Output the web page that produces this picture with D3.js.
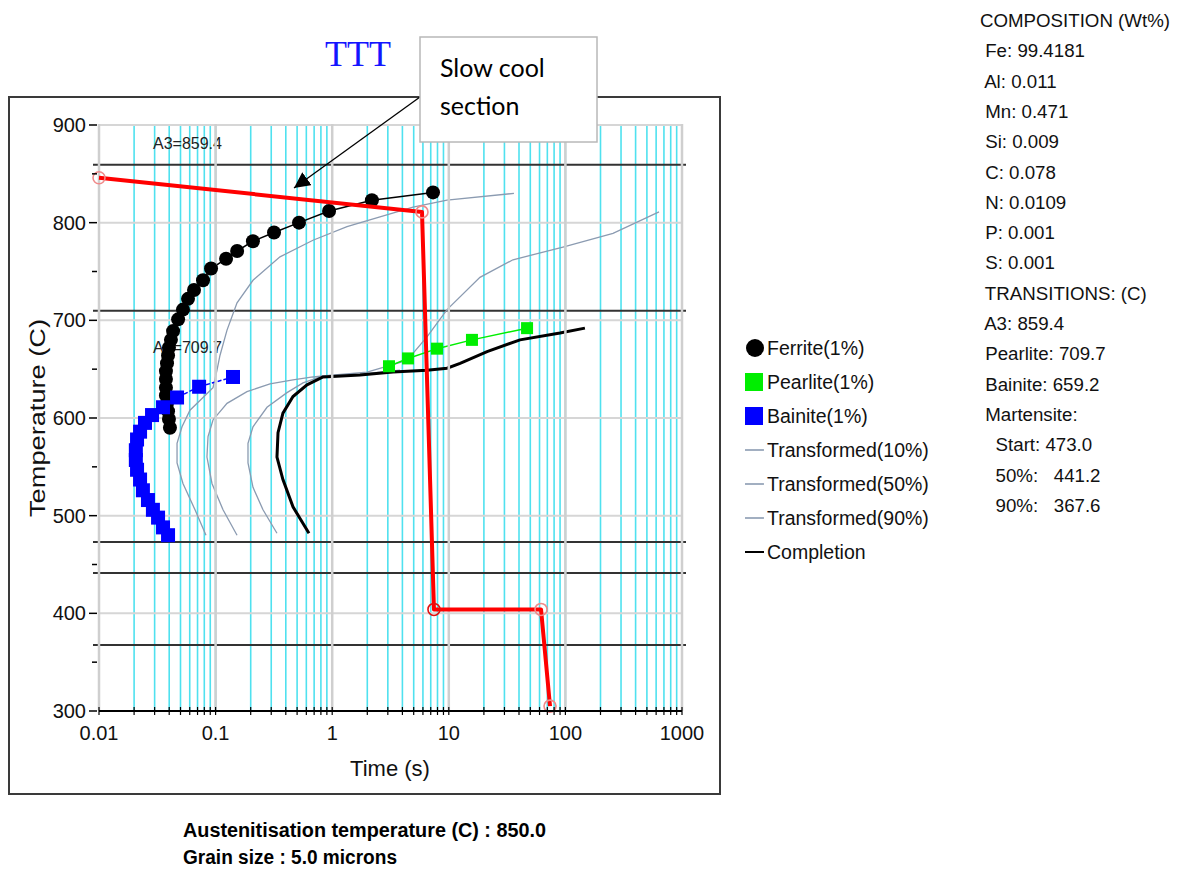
<!DOCTYPE html>
<html>
<head>
<meta charset="utf-8">
<script src="https://cdn.jsdelivr.net/npm/d3@7"></script>
<style>
  html, body { margin: 0; padding: 0; background: #fff; }
  svg text { font-family: "Liberation Sans", Arial, sans-serif; white-space: pre; }
</style>
</head>
<body>
<svg id="chart" width="1181" height="872"></svg>
<script>
// ---- Data -------------------------------------------------------------
const timeTickLabels = ["0.01", "0.1", "1", "10", "100", "1000"];
const tempTicks = [300, 400, 500, 600, 700, 800, 900];
const tempMinorTicks = [350, 450, 550, 650, 750, 850];

// Transition temperatures (C): A3, A1, Ms, M50, M90
const transitionTemps = [859.4, 709.7, 473.0, 441.2, 367.6];
const transitionLabels = ["A3=859.4", "A1=709.7"];

// [time (s), temperature (C)]
const ferriteStart = [
  [7.32, 831], [2.19, 823], [0.94, 812], [0.519, 800], [0.317, 790], [0.209, 781],
  [0.153, 771], [0.123, 763], [0.0914, 753], [0.078, 741], [0.0653, 731], [0.058, 722],
  [0.0525, 711], [0.0477, 701], [0.0432, 689], [0.0414, 680], [0.0398, 672], [0.0391, 664],
  [0.0383, 656], [0.0375, 648], [0.0375, 640], [0.0375, 631], [0.0375, 623], [0.0383, 615],
  [0.0391, 607], [0.0398, 599], [0.0406, 590]
];
const pearliteStart = [[3.07, 653], [4.47, 661], [7.92, 671], [15.8, 680], [46.9, 692]];
const bainiteStart = [
  [0.141, 642], [0.0722, 632], [0.0467, 621], [0.0354, 611], [0.0285, 603], [0.0248, 595],
  [0.0225, 586], [0.0212, 578], [0.0207, 567], [0.0207, 557], [0.0212, 547], [0.0225, 537],
  [0.0238, 526], [0.0263, 516], [0.0290, 506], [0.0321, 498], [0.0354, 488], [0.0391, 480]
];
const transformed10 = [
  [0.0827, 480], [0.0666, 506], [0.0525, 533], [0.0467, 554], [0.0467, 574], [0.0515, 591],
  [0.0603, 608], [0.078, 621], [0.095, 631], [0.1028, 649], [0.109, 664], [0.1253, 690],
  [0.1527, 718], [0.2093, 741], [0.3566, 765], [0.684, 782], [1.34, 796], [2.57, 806],
  [4.93, 816], [9.66, 823], [36.2, 830]
];
const transformed50 = [
  [0.1527, 480], [0.1158, 506], [0.0931, 533], [0.0843, 560], [0.0861, 581], [0.095, 598],
  [0.1253, 615], [0.1858, 627], [0.2928, 635], [0.461, 639], [0.684, 642], [0.834, 643],
  [1.99, 647], [4.38, 659], [6.50, 683], [9.66, 711], [18.5, 744], [35.5, 762],
  [95.3, 775], [256, 789], [635, 811]
];
const transformed90 = [
  [0.336, 482], [0.255, 506], [0.2093, 529], [0.1896, 554], [0.1896, 574], [0.2093, 591],
  [0.276, 611], [0.4096, 626], [0.5617, 636], [0.834, 643], [1.73, 645], [3.81, 649]
];
const completion = [
  [0.632, 482], [0.461, 509], [0.378, 537], [0.336, 560], [0.343, 585], [0.378, 605],
  [0.461, 622], [0.608, 634], [0.834, 642], [1.73, 644], [3.32, 647], [6.50, 649],
  [9.66, 651], [12.5, 656], [21.3, 668], [40.8, 680], [89.9, 687], [147, 692]
];
// Cooling schedule: austenitise, slow cool, quench, hold, final quench
const coolingPath = [[0.01, 846], [5.89, 811], [7.46, 404], [61.8, 404], [73.8, 305]];

const legendItems = ["Ferrite(1%)", "Pearlite(1%)", "Bainite(1%)", "Transformed(10%)",
  "Transformed(50%)", "Transformed(90%)", "Completion"];
const compositionLines = [
  "COMPOSITION (Wt%)", " Fe: 99.4181", " Al: 0.011", " Mn: 0.471", " Si: 0.009",
  " C: 0.078", " N: 0.0109", " P: 0.001", " S: 0.001", " TRANSITIONS: (C)", " A3: 859.4",
  " Pearlite: 709.7", " Bainite: 659.2", " Martensite:", "   Start: 473.0",
  "   50%:   441.2", "   90%:   367.6"
];
const footerLines = ["Austenitisation temperature (C) : 850.0", "Grain size : 5.0 microns"];
const chartTitle = "TTT";
const calloutLines = ["Slow cool", "section"];

// ---- Layout -----------------------------------------------------------
const svg = d3.select("#chart");
const x = d3.scaleLog().domain([0.01, 1000]).range([99, 682]);
const y = d3.scaleLinear().domain([300, 900]).range([711, 125]);
const line = d3.line().x(d => x(d[0])).y(d => y(d[1]));

const CYAN = "#4fe1ef", GRID = "#d6d6d6", CURVE = "#8b9bb1";

svg.append("rect").attr("width", 1181).attr("height", 872).attr("fill", "#fff");

// Chart frame
svg.append("rect").attr("x", 9).attr("y", 97).attr("width", 711).attr("height", 697)
  .attr("fill", "none").attr("stroke", "#3a3a3a").attr("stroke-width", 2);

// Vertical minor gridlines (1..9 per decade)
const minorTimes = [];
for (let k = -2; k <= 2; k++) for (let m = 1; m <= 9; m++) minorTimes.push(m * Math.pow(10, k));
minorTimes.push(1000);
const g = svg.append("g");
g.selectAll("line.cyan").data(minorTimes).join("line")
  .attr("x1", d => x(d)).attr("x2", d => x(d))
  .attr("y1", 124).attr("y2", y(300))
  .attr("stroke", CYAN).attr("stroke-width", 1.6);

// Horizontal gridlines
g.selectAll("line.hgrid").data(tempTicks.filter(t => t > 300)).join("line")
  .attr("x1", x(0.01)).attr("x2", x(1000))
  .attr("y1", d => y(d)).attr("y2", d => y(d))
  .attr("stroke", GRID).attr("stroke-width", 2);

// Transition temperature lines
g.selectAll("line.trans").data(transitionTemps).join("line")
  .attr("x1", x(0.01) - 6).attr("x2", x(1000) + 4)
  .attr("y1", d => y(d)).attr("y2", d => y(d))
  .attr("stroke", "#333").attr("stroke-width", 2);

// A3 label sits above its line, A1 label below its line
g.selectAll("text.trans").data(transitionLabels).join("text")
  .attr("x", 153).attr("y", (d, i) => y(transitionTemps[i]) + (i === 0 ? -16 : 42))
  .attr("font-size", 16).attr("fill", "#222").text(d => d);

// Transformation curves
const curves = svg.append("g").attr("fill", "none");
[transformed10, transformed50, transformed90].forEach(c =>
  curves.append("path").attr("d", line(c)).attr("stroke", CURVE).attr("stroke-width", 1.3));
curves.append("path").attr("d", line(completion)).attr("stroke", "#000").attr("stroke-width", 3);
curves.append("path").attr("d", line(ferriteStart)).attr("stroke", "#000").attr("stroke-width", 1.5);
curves.append("path").attr("d", line(pearliteStart)).attr("stroke", "#00ee00").attr("stroke-width", 1.5);
curves.append("path").attr("d", line(bainiteStart)).attr("stroke", "#0000ff").attr("stroke-width", 1.5)
  .attr("stroke-dasharray", "4,2");

// Decade gridlines drawn over the curves
svg.append("g").selectAll("line").data([0.01, 0.1, 1, 10, 100, 1000]).join("line")
  .attr("x1", d => x(d)).attr("x2", d => x(d))
  .attr("y1", 124).attr("y2", y(300))
  .attr("stroke", "#cfcfcf").attr("stroke-width", 2.5);

// Markers
const marks = svg.append("g");
marks.selectAll("circle.fer").data(ferriteStart).join("circle")
  .attr("cx", d => x(d[0])).attr("cy", d => y(d[1])).attr("r", 7).attr("fill", "#000");
const sq = 14;
marks.selectAll("rect.bai").data(bainiteStart).join("rect")
  .attr("x", d => x(d[0]) - sq / 2).attr("y", d => y(d[1]) - sq / 2)
  .attr("width", sq).attr("height", sq).attr("fill", "#0000ff");
marks.selectAll("rect.pea").data(pearliteStart).join("rect")
  .attr("x", d => x(d[0]) - 6).attr("y", d => y(d[1]) - 6)
  .attr("width", 12).attr("height", 12).attr("fill", "#00ee00");

// Cooling path
svg.append("path").attr("d", line(coolingPath)).attr("fill", "none")
  .attr("stroke", "#ff0000").attr("stroke-width", 4).attr("stroke-linejoin", "round");
svg.append("g").selectAll("circle").data(coolingPath).join("circle")
  .attr("cx", d => x(d[0])).attr("cy", d => y(d[1])).attr("r", 6)
  .attr("fill", "none").attr("stroke", (d, i) => i === 2 ? "#e01010" : "#f08a8a")
  .attr("stroke-width", 1.6);

// Y axis ticks and labels
const ax = svg.append("g");
ax.selectAll("line.maj").data(tempTicks).join("line")
  .attr("x1", 89).attr("x2", 97).attr("y1", d => y(d)).attr("y2", d => y(d))
  .attr("stroke", "#000").attr("stroke-width", 1.5);
ax.selectAll("line.min").data(tempMinorTicks).join("line")
  .attr("x1", 92).attr("x2", 97).attr("y1", d => y(d)).attr("y2", d => y(d))
  .attr("stroke", "#000").attr("stroke-width", 1.5);
ax.selectAll("text.yl").data(tempTicks).join("text")
  .attr("x", 86).attr("y", d => y(d) + 7).attr("text-anchor", "end")
  .attr("font-size", 20).attr("fill", "#111").text(d => d);

// X axis
ax.append("line").attr("x1", x(0.01)).attr("x2", x(1000)).attr("y1", y(300)).attr("y2", y(300))
  .attr("stroke", "#000").attr("stroke-width", 2);
ax.selectAll("line.xt").data(minorTimes).join("line")
  .attr("x1", d => x(d)).attr("x2", d => x(d)).attr("y1", y(300) - 4).attr("y2", y(300) + 4)
  .attr("stroke", "#000").attr("stroke-width", 1.2);
ax.selectAll("text.xl").data(timeTickLabels).join("text")
  .attr("x", d => x(+d)).attr("y", 740).attr("text-anchor", "middle")
  .attr("font-size", 20).attr("fill", "#111").text(d => d);

ax.append("text").attr("x", 390).attr("y", 776).attr("text-anchor", "middle")
  .attr("font-size", 22).attr("fill", "#111").text("Time (s)");
ax.append("text").attr("transform", "translate(45,418) rotate(-90)")
  .attr("text-anchor", "middle").attr("font-size", 22).attr("fill", "#111")
  .attr("textLength", 198).attr("lengthAdjust", "spacingAndGlyphs")
  .text("Temperature (C)");

// Title
svg.append("text").attr("x", 325).attr("y", 66)
  .style("font-family", "'Liberation Serif', 'Times New Roman', serif")
  .attr("font-size", 36).attr("fill", "#1414ff").text(chartTitle);

// Legend
const lg = svg.append("g");
const legendY = i => 348 + i * 34;
lg.append("circle").attr("cx", 755).attr("cy", legendY(0)).attr("r", 9).attr("fill", "#000");
lg.append("rect").attr("x", 745).attr("y", legendY(1) - 9).attr("width", 18).attr("height", 18).attr("fill", "#00ee00");
lg.append("rect").attr("x", 745).attr("y", legendY(2) - 9).attr("width", 18).attr("height", 18).attr("fill", "#0000ff");
[3, 4, 5, 6].forEach(i => lg.append("line").attr("x1", 745).attr("x2", 764)
  .attr("y1", legendY(i)).attr("y2", legendY(i))
  .attr("stroke", i === 6 ? "#000" : CURVE).attr("stroke-width", i === 6 ? 2 : 1.6));
lg.selectAll("text").data(legendItems).join("text")
  .attr("x", 767).attr("y", (d, i) => legendY(i) + 7)
  .attr("font-size", 19.5).attr("fill", "#111").text(d => d);

// Composition panel
svg.append("g").selectAll("text").data(compositionLines).join("text")
  .attr("x", 980).attr("y", (d, i) => 27 + i * 30.3)
  .attr("font-size", 18.7).attr("fill", "#111").text(d => d);

// Footer
svg.append("g").selectAll("text").data(footerLines).join("text")
  .attr("x", 183).attr("y", (d, i) => 837 + i * 27)
  .attr("font-size", 20).attr("font-weight", "bold").attr("fill", "#000")
  .attr("textLength", (d, i) => i === 0 ? 363 : 214).attr("lengthAdjust", "spacingAndGlyphs")
  .text(d => d);

// Callout box with arrow
const defs = svg.append("defs");
defs.append("marker").attr("id", "arrowhead").attr("viewBox", "0 0 10 10")
  .attr("refX", 10).attr("refY", 5).attr("markerWidth", 16).attr("markerHeight", 16)
  .attr("markerUnits", "userSpaceOnUse").attr("orient", "auto")
  .append("path").attr("d", "M0,0 L10,5 L0,10 z").attr("fill", "#000");
svg.append("line").attr("x1", 420).attr("y1", 97).attr("x2", 294).attr("y2", 188)
  .attr("stroke", "#000").attr("stroke-width", 1.3).attr("marker-end", "url(#arrowhead)");
svg.append("rect").attr("x", 420).attr("y", 37).attr("width", 177).attr("height", 105)
  .attr("fill", "#fff").attr("stroke", "#b8b8b8").attr("stroke-width", 1.5);
svg.append("g").selectAll("text").data(calloutLines).join("text")
  .attr("x", 440).attr("y", (d, i) => 77 + i * 38)
  .style("font-family", "Lato, 'Open Sans', sans-serif")
  .attr("font-size", 25).attr("fill", "#000").text(d => d);
</script>
</body>
</html>
